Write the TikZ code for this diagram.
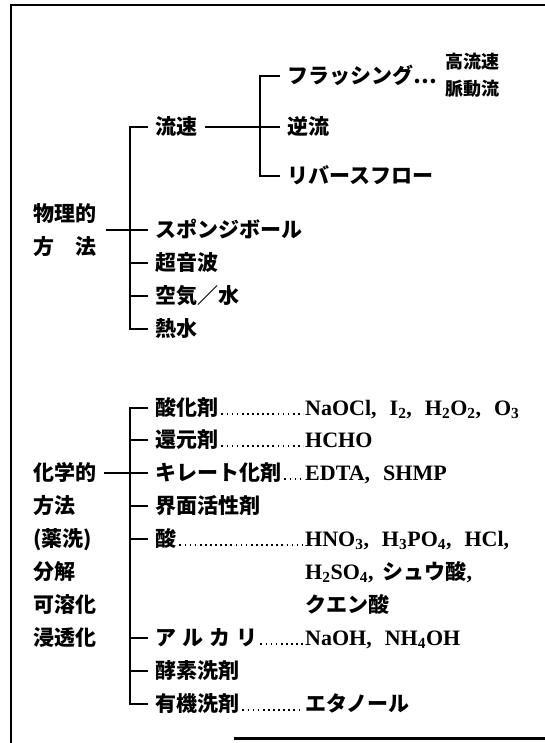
\documentclass[tikz,border=0pt]{standalone}
\usepackage{fontspec}
\setmainfont{Liberation Serif}
\newfontfamily\jp{Noto Sans CJK JP}
\newcommand{\chem}[1]{{\rmfamily\bfseries\fontsize{22}{22}\selectfont #1}}
\newcommand{\csep}{\hspace{13pt}}
\begin{document}
\begin{tikzpicture}[x=1pt,y=-1pt,
  conn/.style={line width=1.6pt},
  leader/.style={line width=1.7pt, dash pattern=on 1.7pt off 3.4pt},
  lbl/.style={anchor=west, inner sep=0pt, text height=18pt, text depth=3pt,
    font=\jp\bfseries\fontsize{21}{21}\selectfont},
  sm/.style={anchor=west, inner sep=0pt, text height=16pt, text depth=3pt,
    font=\jp\bfseries\fontsize{18}{18}\selectfont}]
\useasboundingbox (0,0) rectangle (545,743);
\fill[white] (0,0) rectangle (545,743);
% frame
\draw[line width=1.5pt] (10,5) -- (545,5);
\draw[line width=2pt] (11,4) -- (11,743);
\draw[line width=3pt] (234,738) -- (545,738);

% ---------- physical methods ----------
\node[lbl] (flush) at (287,76) {フラッシング…};
\node[sm] (kouryu) at (445,62) {高流速};
\node[sm] (myaku) at (445,89) {脈動流};
\node[lbl] (ryusoku) at (155,127) {流速};
\node[lbl] (gyaku) at (287,127) {逆流};
\node[lbl] (reverse) at (287,176) {リバースフロー};
\node[lbl] (phys1) at (33,214) {物理的};
\node[lbl] (phys2) at (33,247) {方　法};
\node[lbl] (sponge) at (155,230) {スポンジボール};
\node[lbl] (choon) at (155,263) {超音波};
\node[lbl] (kuki) at (155,296) {空気／水};
\node[lbl] (nessui) at (155,329) {熱水};

\coordinate (fbot) at (260,176);
\coordinate (pbot) at (130,329);
\coordinate (pcross) at (106,230);

\draw[conn] ([xshift=-7pt]flush.west) -| (fbot) -- ([xshift=-7pt]reverse.west);
\draw[conn] ([xshift=8pt]ryusoku.east) -- ([xshift=-7pt]gyaku.west);
\draw[conn] ([xshift=-7pt]ryusoku.west) -| (pbot) -- ([xshift=-7pt]nessui.west);
\draw[conn] (pcross) -- ([xshift=-7pt]sponge.west);
\draw[conn] (choon.west -| pbot) -- ([xshift=-7pt]choon.west);
\draw[conn] (kuki.west -| pbot) -- ([xshift=-7pt]kuki.west);

% ---------- chemical methods ----------
\node[lbl] (kagaku) at (33,473) {化学的};
\node[lbl] (hoho) at (33,506) {方法};
\node[lbl] (yakusen) at (33,539) {(薬洗)};
\node[lbl] (bunkai) at (33,572) {分解};
\node[lbl] (kayoka) at (33,605) {可溶化};
\node[lbl] (shinto) at (33,638) {浸透化};

\node[lbl] (sanka) at (155,408) {酸化剤};
\node[lbl] (sankaR) at (305,408) {\chem{NaOCl,\csep I\textsubscript{2},\csep H\textsubscript{2}O\textsubscript{2},\csep O\textsubscript{3}}};
\node[lbl] (kangen) at (155,440) {還元剤};
\node[lbl] (kangenR) at (305,440) {\chem{HCHO}};
\node[lbl] (chelate) at (155,473) {キレート化剤};
\node[lbl] (chelateR) at (305,473) {\chem{EDTA,\csep SHMP}};
\node[lbl] (kaimen) at (155,506) {界面活性剤};
\node[lbl] (san) at (155,539) {酸};
\node[lbl] (sanR) at (305,539) {\chem{HNO\textsubscript{3},\csep H\textsubscript{3}PO\textsubscript{4},\csep HCl,}};
\node[lbl] (sanR2) at (305,572) {\chem{H\textsubscript{2}SO\textsubscript{4},}\hspace{9pt}シュウ酸\chem{,}};
\node[lbl] (sanR3) at (305,605) {クエン酸};
\node[lbl] (alkali) at (155,638) {ア\hspace{6pt}ル\hspace{6pt}カ\hspace{6pt}リ};
\node[lbl] (alkaliR) at (305,638) {\chem{NaOH,\csep NH\textsubscript{4}OH}};
\node[lbl] (koso) at (155,671) {酵素洗剤};
\node[lbl] (yuki) at (155,704) {有機洗剤};
\node[lbl] (yukiR) at (305,704) {エタノール};

\coordinate (cbot) at (130,704);
\coordinate (ccross) at (106,473);

\draw[conn] ([xshift=-7pt]sanka.west) -| (cbot) -- ([xshift=-7pt]yuki.west);
\draw[conn] ([xshift=8pt]kagaku.east) -- ([xshift=-7pt]chelate.west);
\foreach \n in {kangen,kaimen,san,alkali,koso}
  \draw[conn] (\n.west -| cbot) -- ([xshift=-7pt]\n.west);

% leaders
\foreach \a/\b in {sanka/sankaR,kangen/kangenR,chelate/chelateR,san/sanR,alkali/alkaliR,yuki/yukiR}
  \draw[leader] ([xshift=3pt,yshift=-6pt]\a.east) -- ([xshift=-2pt,yshift=-6pt]\b.west);
\end{tikzpicture}
\end{document}
